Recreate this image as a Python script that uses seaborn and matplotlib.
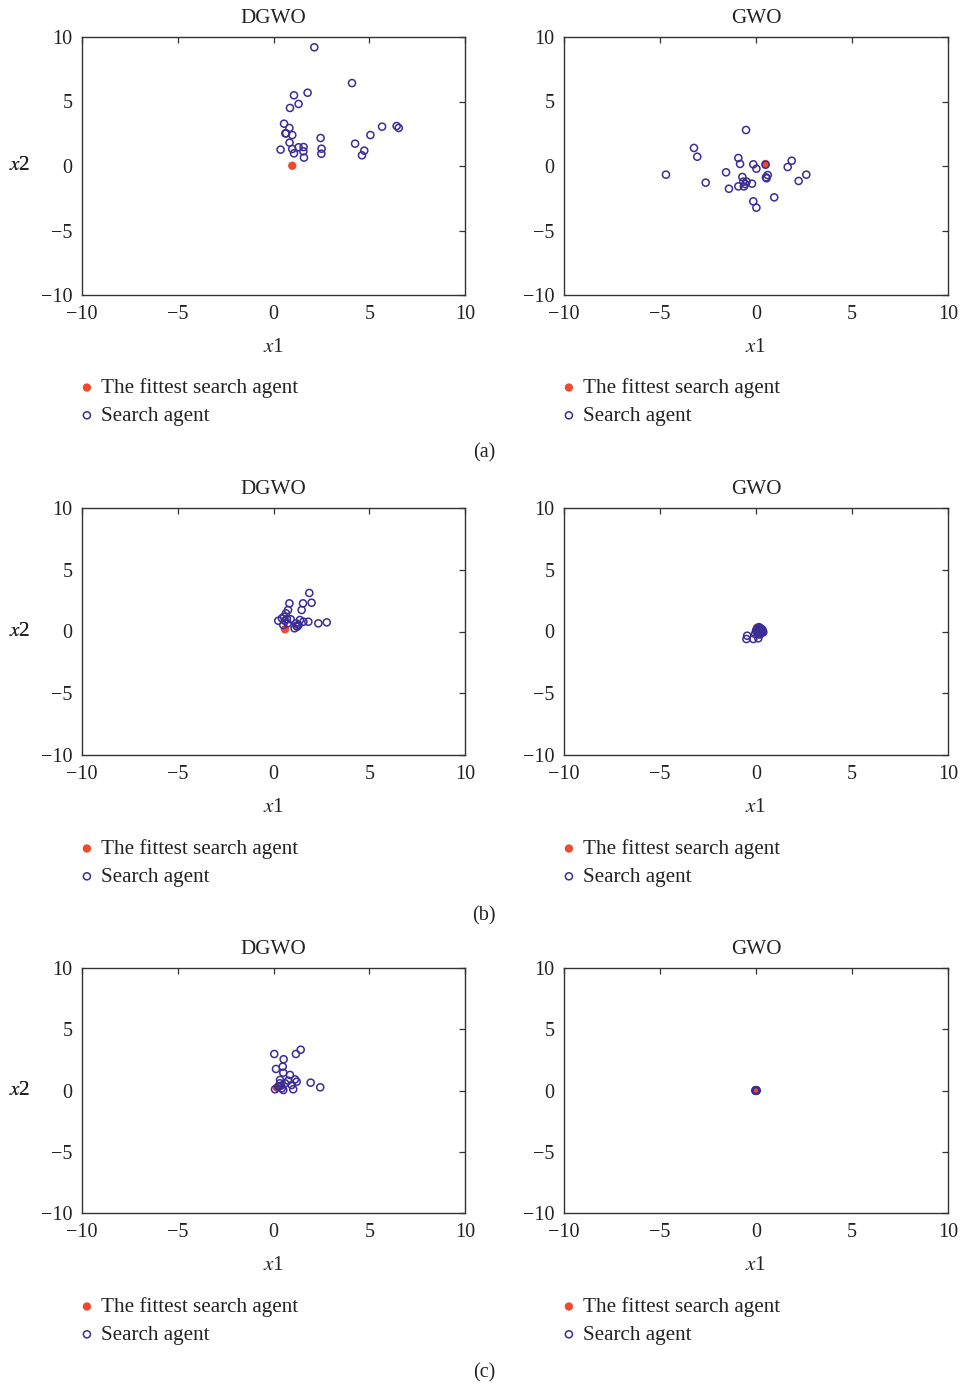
import matplotlib
matplotlib.use("Agg")
import matplotlib.pyplot as plt
import seaborn as sns

sns.set_theme(style="white")
plt.rcParams["font.family"] = ["Liberation Serif", "DejaVu Serif"]
plt.rcParams["mathtext.fontset"] = "stix"

# ---------------- data ----------------
titles = ["DGWO", "GWO"]
row_labels = ["(a)", "(b)", "(c)"]
ticks = [-10, -5, 0, 5, 10]
legend_labels = ["The fittest search agent", "Search agent"]

# (a) DGWO
a_dgwo_x = [2.13, 4.10, 1.78, 1.07, 1.31, 0.86, 0.55, 0.83, 0.62, 0.66, 0.98, 0.84, 0.37, 0.98,
            1.07, 1.31, 1.57, 1.56, 1.59, 2.46, 2.51, 2.50, 4.26, 4.74, 4.62, 5.06, 5.67, 6.43, 6.54]
a_dgwo_y = [9.20, 6.43, 5.68, 5.48, 4.81, 4.50, 3.28, 2.95, 2.53, 2.53, 2.40, 1.81, 1.27, 1.32,
            0.98, 1.45, 1.47, 1.14, 0.65, 2.17, 1.34, 0.95, 1.73, 1.19, 0.83, 2.40, 3.05, 3.10, 2.95]
a_dgwo_best = (0.98, 0.02)

# (a) GWO
a_gwo_x = [-0.52, -3.23, -3.06, -4.69, -2.62, -1.56, -1.41, -0.92, -0.83, -0.71, -0.92, -0.66, -0.56,
           -0.63, -0.49, -0.21, -0.14, 0.02, -0.14, 0.02, 0.52, 0.61, 0.55, 0.95, 1.65, 1.86, 2.22,
           2.62, 0.50]
a_gwo_y = [2.79, 1.40, 0.72, -0.67, -1.29, -0.49, -1.76, 0.62, 0.16, -0.85, -1.58, -1.21, -1.40,
           -1.58, -1.21, -1.37, 0.13, -0.21, -2.74, -3.23, -0.88, -0.70, -0.95, -2.43, -0.08, 0.41,
           -1.16, -0.67, 0.10]
a_gwo_best = (0.49, 0.16)

# (b) DGWO
b_dgwo_x = [1.87, 1.54, 1.99, 0.83, 1.47, 0.76, 0.65, 0.55, 0.44, 0.25, 0.60, 0.74, 0.51, 1.17,
            1.38, 1.31, 1.56, 1.82, 1.10, 1.24, 2.34, 2.78, 0.90, 0.70, 1.20]
b_dgwo_y = [3.12, 2.28, 2.33, 2.28, 1.74, 1.74, 1.47, 1.20, 1.07, 0.87, 0.87, 0.66, 0.53, 0.66,
            0.93, 0.53, 0.79, 0.79, 0.26, 0.39, 0.66, 0.74, 0.99, 1.00, 0.45]
b_dgwo_best = (0.60, 0.18)

# (b) GWO
b_gwo_x = [-0.50, -0.46, -0.14, 0.12, 0.00, 0.10, 0.22, 0.32, 0.38, 0.15, 0.05, 0.28, 0.20,
           0.08, 0.18, 0.30, 0.12, 0.02, 0.25, 0.15, -0.05, 0.35]
b_gwo_y = [-0.61, -0.34, -0.61, -0.55, 0.05, 0.20, 0.15, 0.05, -0.05, -0.15, -0.05, -0.15, 0.30,
           0.25, -0.25, 0.20, 0.05, 0.10, -0.02, 0.35, -0.20, 0.10]
b_gwo_best = (0.05, 0.30)

# (c) DGWO
c_dgwo_x = [0.04, 1.17, 1.42, 0.53, 0.13, 0.48, 0.51, 0.86, 0.34, 1.12, 1.21, 0.77, 0.60, 0.95,
            1.03, 0.25, 0.08, 0.43, 0.51, 0.34, 1.94, 2.44, 0.30, 0.40]
c_dgwo_y = [2.98, 2.98, 3.33, 2.55, 1.76, 1.95, 1.45, 1.27, 0.86, 0.91, 0.72, 0.80, 0.59, 0.45,
            0.10, 0.31, 0.10, 0.18, 0.04, 0.59, 0.64, 0.26, 0.35, 0.40]
c_dgwo_best = (0.17, 0.23)

# (c) GWO
c_gwo_x = [0.00, 0.03, -0.03, 0.02, -0.02, 0.01, 0.00, -0.01]
c_gwo_y = [0.00, 0.02, -0.02, -0.03, 0.03, 0.01, -0.01, 0.00]
c_gwo_best = (0.01, 0.00)

panels = [
    [(a_dgwo_x, a_dgwo_y, a_dgwo_best), (a_gwo_x, a_gwo_y, a_gwo_best)],
    [(b_dgwo_x, b_dgwo_y, b_dgwo_best), (b_gwo_x, b_gwo_y, b_gwo_best)],
    [(c_dgwo_x, c_dgwo_y, c_dgwo_best), (c_gwo_x, c_gwo_y, c_gwo_best)],
]

# ---------------- style ----------------
BLUE = "#3b2d95"
RED = "#ee4a2f"
SPINE = "#333333"
TXT = "#222222"
FS_TICK = 14.5
FS_TEXT = 15.2

W, H = 961, 1386
fig = plt.figure(figsize=(W / 100, H / 100), dpi=100)

col_px = [(82, 465), (564, 948)]
row_px = [(37, 295), (508, 755), (968, 1213)]
legend_center_px = [402, 863, 1321]
label_y = [453, 916, 1373]

for r, (top, bot) in enumerate(row_px):
    for c, (left, right) in enumerate(col_px):
        ax = fig.add_axes([left / W, 1 - bot / H, (right - left) / W, (bot - top) / H])
        xs, ys, best = panels[r][c]
        sns.scatterplot(x=xs, y=ys, ax=ax, marker="o", s=26, color=BLUE,
                        facecolor="none", edgecolor=BLUE, linewidth=1.1,
                        label=legend_labels[1], zorder=3)
        sns.scatterplot(x=[best[0]], y=[best[1]], ax=ax, marker="o", s=36, color=RED,
                        edgecolor="none", linewidth=0, label=legend_labels[0], zorder=2)
        ax.set_xlim(-10, 10)
        ax.set_ylim(-10, 10)
        ax.set_xticks(ticks)
        ax.set_yticks(ticks)
        ax.set_xticklabels([str(t).replace("-", "\u2212") for t in ticks])
        ax.set_yticklabels([str(t).replace("-", "\u2212") for t in ticks])
        ax.tick_params(direction="in", length=4, width=0.9, color=SPINE,
                       top=True, right=True, labelsize=FS_TICK, pad=7, labelcolor=TXT)
        ax.tick_params(axis="y", pad=7)
        for sp in ax.spines.values():
            sp.set_visible(True)
            sp.set_color(SPINE)
            sp.set_linewidth(1.0)
        ax.set_title(titles[c], fontsize=FS_TEXT, pad=10, color=TXT)
        ax.set_xlabel("$x$1", fontsize=FS_TEXT, color=TXT)
        ax.xaxis.label.set_va("center")
        ax.xaxis.set_label_coords(0.5, -52 / (bot - top))
        ax.set_ylabel("$x$2", fontsize=FS_TEXT, rotation=0, color=TXT)
        ax.yaxis.label.set_va("center")
        ax.yaxis.label.set_ha("center")
        ax.yaxis.set_label_coords(-(left - 20) / (right - left), 0.5)
        ax.set_facecolor("white")
        handles, labels = ax.get_legend_handles_labels()
        order = [labels.index(legend_labels[0]), labels.index(legend_labels[1])]
        ax.legend([handles[i] for i in order], [labels[i] for i in order],
                  loc="center left",
                  bbox_to_anchor=(-0.012, -(legend_center_px[r] - bot) / (bot - top)),
                  frameon=False, fontsize=FS_TEXT, handlelength=0.9, handletextpad=0.2,
                  borderpad=0, borderaxespad=0, labelspacing=0.38,
                  labelcolor=TXT)

for r, y in enumerate(label_y):
    fig.text(0.5 + 3.5 / W, 1 - y / H, row_labels[r], ha="center", va="center",
             fontsize=FS_TICK, color=TXT)

fig.savefig("out.png", dpi=100, facecolor="white")
